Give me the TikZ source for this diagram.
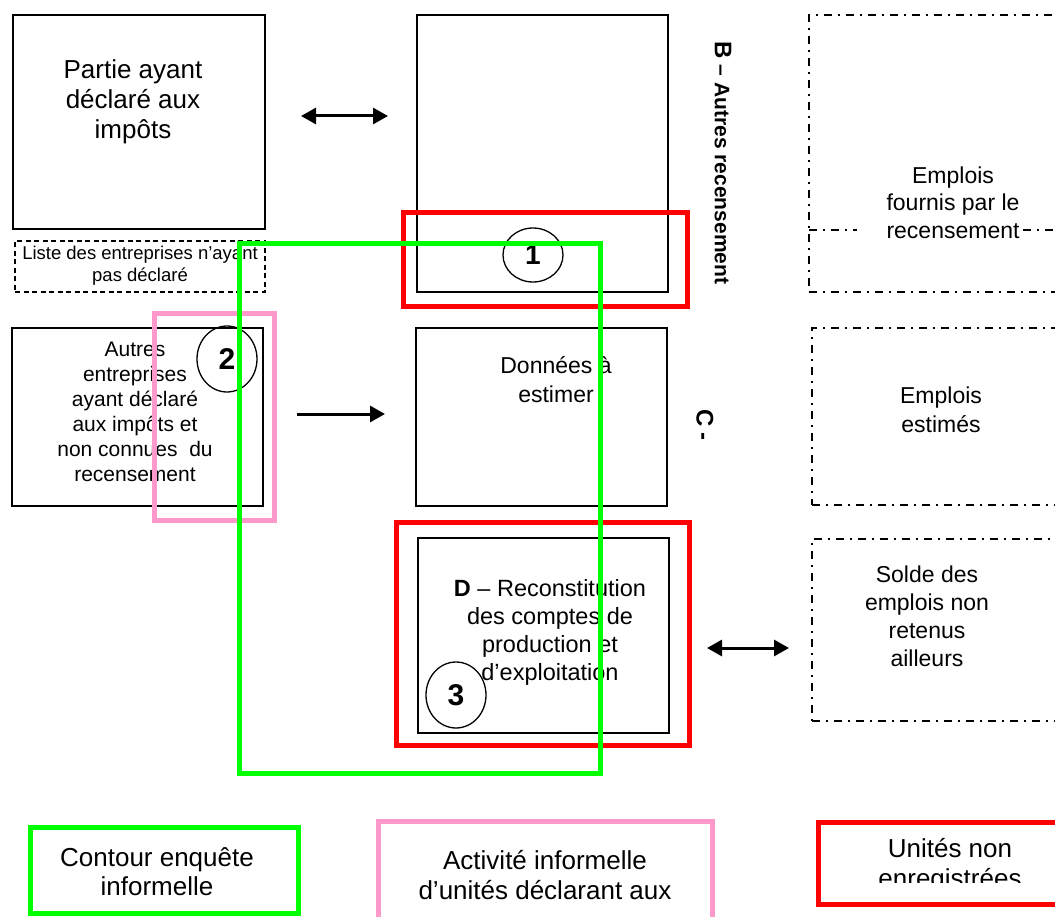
\documentclass[tikz,border=0pt]{standalone}
\usepackage{fontspec}
\setmainfont{Liberation Sans}
\usetikzlibrary{arrows.meta,fit,shapes.geometric}
\definecolor{frameGreen}{RGB}{0,255,0}
\definecolor{framePink}{RGB}{255,153,204}
\definecolor{frameRed}{RGB}{255,0,0}
\newcommand{\fsz}[2]{\fontsize{#1}{#2}\selectfont}

\begin{document}
\begin{tikzpicture}[x=1pt,y=-1pt,
  plainbox/.style={draw, line width=1.6pt, inner sep=0pt},
  listbox/.style={draw, line width=1.5pt, dash pattern=on 5pt off 3.5pt, inner sep=0pt},
  dashdot/.style={line width=1.4pt, dash pattern=on 8pt off 6pt on 2pt off 6pt},
  jobbox/.style={draw, dashdot, inner sep=0pt},
  txt/.style={align=center, inner sep=0pt},
  numcirc/.style={draw, ellipse, line width=1.3pt, inner sep=0pt, minimum width=60pt, font=\bfseries\fsz{30}{30}},
  frame/.style={draw=#1, line width=5pt, inner sep=0pt},
  tip/.tip={Triangle[length=15pt,width=16pt]},
  flow/.style={line width=3pt, -tip},
  flowboth/.style={line width=3pt, tip-tip}
]
\useasboundingbox (0,0) rectangle (1055,917);
\clip (0,0) rectangle (1055,917);

% ---------- left column ----------
\node[plainbox, line width=2pt, fit={(13,15) (265,229)}] (boxA) {};
\node[txt, font=\fsz{26}{30}] (boxAtxt) at (133,102) {Partie ayant\\déclaré aux\\impôts};

\node[listbox, fit={(15,241) (265,292)}] (list) {};
\node[txt, font=\fsz{18.5}{22}] (listtxt) at (140,266) {Liste des entreprises n’ayant\\pas déclaré};

\node[plainbox, fit={(12,328) (263,506)}] (boxAutres) {};
\node[txt, font=\fsz{21}{25}] (autrestxt) at (135,412) {Autres\\entreprises\\ayant déclaré\\aux impôts et\\non connues \ du\\recensement};

% ---------- centre column ----------
\node[plainbox, fit={(417,15) (668,292)}] (boxB) {};
\node[plainbox, fit={(416,328) (667,506)}] (boxC) {};
\node[txt, font=\fsz{23}{29}] (boxCtxt) at (556,380) {Données à\\estimer};
\node[plainbox, fit={(418,538) (669,733)}] (boxD) {};
\node[txt, font=\fsz{23.5}{28}] (boxDtxt) at (550,632) {\textbf{D} – Reconstitution\\des comptes de\\production et\\d’exploitation};

% side labels
\node[rotate=-90, inner sep=0pt, font=\bfseries\fsz{21}{21}] (labB) at (723,163)
  {{\fsz{24}{24}B} – Autres recensement};
\node[rotate=-90, inner sep=0pt, font=\bfseries\fsz{24}{24}] (labC) at (705,425) {C -};

% ---------- right column ----------
\node[jobbox, fit={(809,15) (1100,292)}] (jobs1) {};
\coordinate (rule1a) at (809,230);
\coordinate (rule1b) at (857,230);
\coordinate (rule1c) at (1023,230);
\coordinate (rule1d) at (1060,230);
\draw[dashdot] (rule1a) -- (rule1b);
\draw[dashdot] (rule1c) -- (rule1d);
\node[txt, font=\fsz{23}{27.5}] (jobs1txt) at (953,202.5) {Emplois\\fournis par le\\recensement};

\node[jobbox, fit={(812,328) (1100,505)}] (jobs2) {};
\node[txt, font=\fsz{23}{28.5}] (jobs2txt) at (941,410) {Emplois\\estimés};

\node[jobbox, fit={(812,539) (1100,721)}] (jobs3) {};
\node[txt, font=\fsz{23}{28}] (jobs3txt) at (927,616.5) {Solde des\\emplois non\\retenus\\ailleurs};

% ---------- arrows ----------
\coordinate (a1s) at (301,116);
\coordinate (a1e) at (388,116);
\draw[flowboth] (a1s) -- (a1e);
\coordinate (a2s) at (297,414);
\coordinate (a2e) at (385,414);
\draw[flow] (a2s) -- (a2e);
\coordinate (a3s) at (707,648);
\coordinate (a3e) at (789,648);
\draw[flowboth] (a3s) -- (a3e);

% ---------- numbered circles ----------
\node[numcirc, minimum height=54pt, font=\bfseries\fsz{28}{28}] (c1) at (533,255) {1};
\node[numcirc, minimum height=66pt] (c2) at (227,359) {2};
\node[numcirc, minimum height=66pt] (c3) at (456,695) {3};

% ---------- coloured outlines ----------
\node[frame=frameRed, fit={(403,213) (687,307)}] (red1) {};
\node[frame=frameRed, fit={(396,522) (689,745)}] (red3) {};
\node[frame=framePink, fit={(154.5,313.5) (274.5,520.5)}] (pink2) {};
\node[frame=frameGreen, fit={(239.5,244) (600.5,773)}] (green) {};

% ---------- legend ----------
\node[frame=frameGreen, fit={(30,827) (298,913)}] (legG) {};
\node[txt, font=\fsz{26}{29}] (legGtxt) at (157,872) {Contour enquête\\informelle};

\node[frame=framePink, fit={(378,821) (712,960)}] (legP) {};
\node[txt, font=\fsz{26}{30}] (legPtxt) at (545,875) {Activité informelle\\d’unités déclarant aux};

\node[frame=frameRed, fit={(818,822) (1080,904)}] (legR) {};
\begin{scope}
  \clip (820,825) rectangle (1055,882);
  \node[txt, font=\fsz{26}{30}] (legRtxt) at (950,866) {Unités non\\enregistrées};
\end{scope}
\end{tikzpicture}
\end{document}
